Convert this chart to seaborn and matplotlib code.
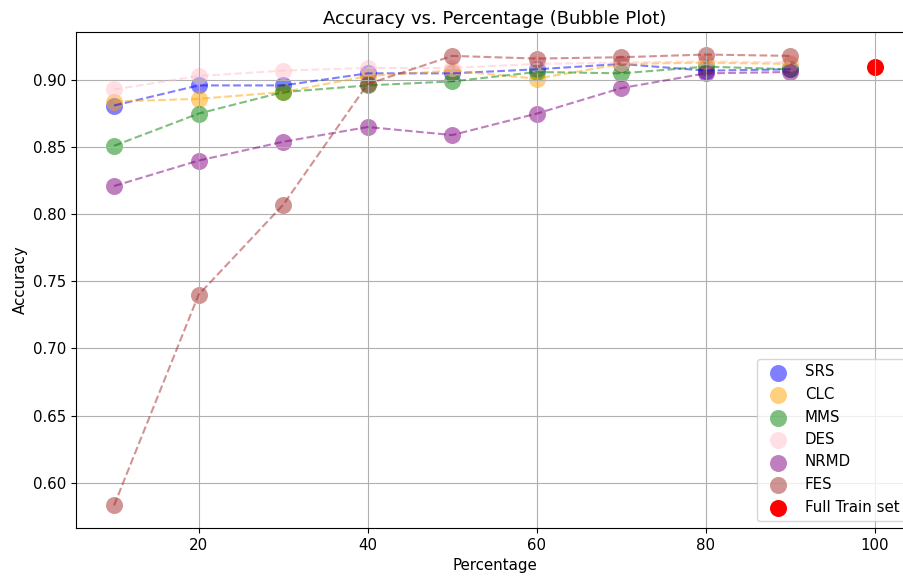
import matplotlib
matplotlib.use("Agg")
import matplotlib.pyplot as plt
import seaborn as sns

percentages = [10, 20, 30, 40, 50, 60, 70, 80, 90]
srs = [0.881, 0.896, 0.896, 0.905, 0.905, 0.908, 0.912, 0.907, 0.908]
clc = [0.884, 0.886, 0.891, 0.903, 0.907, 0.901, 0.912, 0.913, 0.912]
mms = [0.851, 0.875, 0.891, 0.896, 0.899, 0.906, 0.905, 0.910, 0.908]
des = [0.893, 0.903, 0.907, 0.909, 0.909, 0.912, 0.913, 0.914, 0.913]
nrmd = [0.821, 0.840, 0.854, 0.865, 0.859, 0.875, 0.894, 0.905, 0.906]
fes = [0.583, 0.740, 0.807, 0.897, 0.918, 0.916, 0.917, 0.919, 0.918]
full_x = [100]
full_y = [0.910]

series = [("SRS", srs, "blue"), ("CLC", clc, "orange"), ("MMS", mms, "green"),
          ("DES", des, "pink"), ("NRMD", nrmd, "purple"), ("FES", fes, "brown")]

plt.rcParams["font.size"] = 10.8

fig = plt.figure(figsize=(9.04, 5.81), dpi=100)
ax = fig.add_axes([76/904, 53/581, (913-76)/904, (528-32)/581])

for name, vals, col in series:
    sns.scatterplot(x=percentages, y=vals, color=col, s=150, alpha=0.5,
                    linewidth=0, label=name, ax=ax)
    sns.lineplot(x=percentages, y=vals, color=col, linestyle="--", alpha=0.5,
                 linewidth=1.5, label="_nolegend_", ax=ax)
sns.scatterplot(x=full_x, y=full_y, color="red", s=150, linewidth=0,
                label="Full Train set", ax=ax)

ax.set_title("Accuracy vs. Percentage (Bubble Plot)", fontsize=13)
ax.set_xlabel("Percentage")
ax.set_ylabel("Accuracy")
ax.grid(True)
ax.legend(loc="lower right")
fig.savefig("out.png", dpi=100)
